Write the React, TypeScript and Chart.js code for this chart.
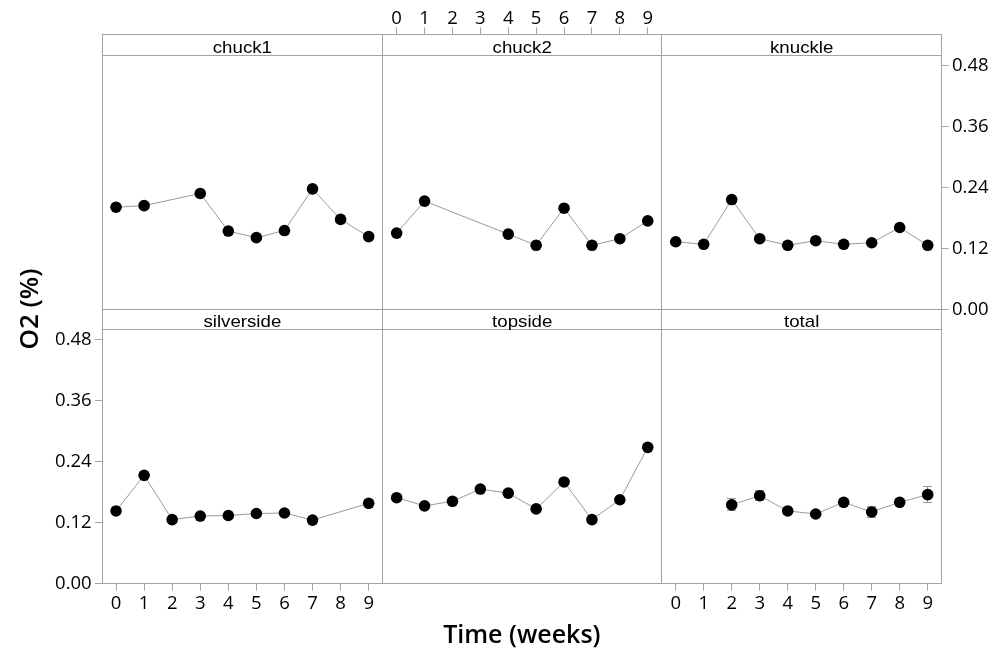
import React, { useEffect, useRef } from "react";
import { Chart, registerables } from "chart.js";

Chart.register(...registerables);

// ---------------- data ----------------
const weeks = [0, 1, 2, 3, 4, 5, 6, 7, 8, 9];
const xTickLabels = ["0", "1", "2", "3", "4", "5", "6", "7", "8", "9"];
const yTickValues = [0, 0.12, 0.24, 0.36, 0.48];
const yTickLabels = ["0.00", "0.12", "0.24", "0.36", "0.48"];
const panelNames = ["chuck1", "chuck2", "knuckle", "silverside", "topside", "total"];

const chuck1 = [0.201, 0.204, null, 0.228, 0.154, 0.141, 0.155, 0.237, 0.177, 0.143];
const chuck2 = [0.150, 0.213, null, null, 0.148, 0.126, 0.199, 0.126, 0.139, 0.174];
const knuckle = [0.133, 0.128, 0.216, 0.139, 0.126, 0.135, 0.128, 0.131, 0.161, 0.126];
const silverside = [0.143, 0.213, 0.126, 0.133, 0.134, 0.138, 0.139, 0.125, null, 0.158];
const topside = [0.169, 0.153, 0.162, 0.186, 0.178, 0.147, 0.200, 0.126, 0.165, 0.268];
const total = [null, null, 0.155, 0.173, 0.143, 0.137, 0.160, 0.141, 0.160, 0.175];
const totalErr = [null, null, 0.012, 0.0095, 0.004, 0.003, 0.004, 0.010, 0.004, 0.0155];

const xTitle = "Time (weeks)";
const yTitle = "O2 (%)";

// ---------------- layout / style ----------------
const W = 1007;
const H = 648;
const X_MIN = -0.5;
const X_MAX = 9.5;
const Y_MIN = 0;
const Y_MAX = 0.5;
const COLS = [102, 382.7, 661.7, 941.7];
const ROWS = [
  { stripTop: 34.3, top: 55.3, bottom: 309.3 },
  { stripTop: 309.3, top: 329.3, bottom: 583.7 },
];
const AX_L = 62;
const AX_R = 62;
const AX_T = 45;
const AX_B = 30;
const BORDER = "#a3a3a3";
const LINE = "#9a9a9a";
const TICK_FONT = { family: '"Open Sans", "Noto Sans", sans-serif', size: 18.5 };
const STRIP_FONT = '17px "Liberation Sans", Arial, sans-serif';
const X_TITLE_FONT = '600 25px "Open Sans", "Noto Sans", sans-serif';
const Y_TITLE_FONT = '600 26px "Open Sans", "Noto Sans", sans-serif';

type AxisPos = "none" | "top" | "bottom" | "left" | "right";
interface PanelDef {
  name: string;
  values: (number | null)[];
  err?: (number | null)[];
  row: number;
  col: number;
  xAxis: AxisPos;
  yAxis: AxisPos;
}

const PANELS: PanelDef[] = [
  { name: panelNames[0], values: chuck1, row: 0, col: 0, xAxis: "none", yAxis: "none" },
  { name: panelNames[1], values: chuck2, row: 0, col: 1, xAxis: "top", yAxis: "none" },
  { name: panelNames[2], values: knuckle, row: 0, col: 2, xAxis: "none", yAxis: "right" },
  { name: panelNames[3], values: silverside, row: 1, col: 0, xAxis: "bottom", yAxis: "left" },
  { name: panelNames[4], values: topside, row: 1, col: 1, xAxis: "none", yAxis: "none" },
  { name: panelNames[5], values: total, err: totalErr, row: 1, col: 2, xAxis: "bottom", yAxis: "none" },
];

const crisp = (v: number) => Math.floor(v) + 0.5;

function buildConfig(p: PanelDef, drawTitles: boolean): any {
  const row = ROWS[p.row];
  const left = COLS[p.col];
  const right = COLS[p.col + 1];
  const padding = {
    left: left - (p.yAxis === "left" ? AX_L : 0),
    right: W - right - (p.yAxis === "right" ? AX_R : 0),
    top: row.top - (p.xAxis === "top" ? AX_T : 0),
    bottom: H - row.bottom - (p.xAxis === "bottom" ? AX_B : 0),
  };
  const data = weeks
    .map((w, i) => ({ x: w, y: p.values[i] }))
    .filter((d) => d.y !== null && d.y !== undefined);

  const showX = p.xAxis !== "none";
  const showY = p.yAxis !== "none";

  const panelPlugin = {
    id: "panelDecor",
    beforeDatasetsDraw(chart: any) {
      if (!p.err) return;
      const ctx = chart.ctx;
      const xs = chart.scales.x;
      const ys = chart.scales.y;
      ctx.save();
      ctx.strokeStyle = LINE;
      ctx.lineWidth = 1;
      weeks.forEach((w, i) => {
        const v = p.values[i];
        const e = p.err ? p.err[i] : null;
        if (v === null || e === null || e === undefined) return;
        const cx = crisp(xs.getPixelForValue(w));
        const y1 = ys.getPixelForValue(v + e);
        const y2 = ys.getPixelForValue(v - e);
        ctx.beginPath();
        ctx.moveTo(cx, y1);
        ctx.lineTo(cx, y2);
        ctx.moveTo(cx - 4.5, crisp(y1));
        ctx.lineTo(cx + 4.5, crisp(y1));
        ctx.moveTo(cx - 4.5, crisp(y2));
        ctx.lineTo(cx + 4.5, crisp(y2));
        ctx.stroke();
      });
      ctx.restore();
    },
    afterDraw(chart: any) {
      const ctx = chart.ctx;
      ctx.save();
      // strip background
      ctx.fillStyle = "#ffffff";
      ctx.fillRect(left, row.stripTop, right - left, row.top - row.stripTop);
      // borders
      ctx.strokeStyle = BORDER;
      ctx.lineWidth = 1;
      const L = crisp(left);
      const R = crisp(right);
      const T = crisp(row.stripTop);
      const M = crisp(row.top);
      const B = crisp(row.bottom);
      ctx.strokeRect(L, T, R - L, B - T);
      ctx.beginPath();
      ctx.moveTo(L, M);
      ctx.lineTo(R, M);
      ctx.stroke();
      // strip label
      ctx.fillStyle = "#000";
      ctx.font = STRIP_FONT;
      ctx.textAlign = "center";
      ctx.textBaseline = "alphabetic";
      ctx.save();
      ctx.translate((left + right) / 2, row.top - 2.8);
      ctx.scale(1.1, 1);
      ctx.fillText(p.name, 0, 0);
      ctx.restore();

      if (drawTitles) {
        ctx.fillStyle = "#000";
        ctx.textAlign = "center";
        ctx.textBaseline = "alphabetic";
        ctx.font = X_TITLE_FONT;
        ctx.fillText(xTitle, (COLS[0] + COLS[3]) / 2, 643);
        ctx.save();
        ctx.font = Y_TITLE_FONT;
        ctx.translate(37.5, (ROWS[0].stripTop + ROWS[1].bottom) / 2);
        ctx.rotate(-Math.PI / 2);
        ctx.fillText(yTitle, 0, 0);
        ctx.restore();
      }
      ctx.restore();
    },
  };

  return {
    type: "line",
    data: {
      datasets: [
        {
          label: p.name,
          data,
          borderColor: LINE,
          borderWidth: 1,
          pointRadius: 5.8,
          pointHoverRadius: 5.8,
          pointBackgroundColor: "#000",
          pointBorderColor: "#000",
          pointBorderWidth: 0,
          tension: 0,
          spanGaps: true,
          clip: false,
        },
      ],
    },
    options: {
      responsive: false,
      maintainAspectRatio: false,
      animation: false,
      devicePixelRatio: 1,
      events: [],
      layout: { padding },
      plugins: {
        legend: { display: false },
        tooltip: { enabled: false },
        title: { display: false },
      },
      scales: {
        x: {
          type: "linear",
          min: X_MIN,
          max: X_MAX,
          display: showX,
          position: p.xAxis === "top" ? "top" : "bottom",
          afterBuildTicks: (s: any) => {
            s.ticks = weeks.map((v) => ({ value: v }));
          },
          afterFit: (s: any) => {
            if (showX) s.height = p.xAxis === "top" ? AX_T : AX_B;
          },
          grid: {
            display: true,
            drawOnChartArea: false,
            drawTicks: true,
            tickLength: p.xAxis === "top" ? 28 : 7,
            color: BORDER,
            lineWidth: 1,
          },
          border: { display: false },
          ticks: {
            autoSkip: false,
            maxRotation: 0,
            minRotation: 0,
            padding: p.xAxis === "top" ? -3 : 2,
            color: "#000",
            font: TICK_FONT,
            callback: (_v: any, i: number) => xTickLabels[i],
          },
        },
        y: {
          type: "linear",
          min: Y_MIN,
          max: Y_MAX,
          display: showY,
          position: p.yAxis === "right" ? "right" : "left",
          afterBuildTicks: (s: any) => {
            s.ticks = yTickValues.map((v) => ({ value: v }));
          },
          afterFit: (s: any) => {
            if (showY) s.width = p.yAxis === "right" ? AX_R : AX_L;
          },
          grid: {
            display: true,
            drawOnChartArea: false,
            drawTicks: true,
            tickLength: 7,
            color: BORDER,
            lineWidth: 1,
          },
          border: { display: false },
          ticks: {
            autoSkip: false,
            padding: 3.3,
            color: "#000",
            font: TICK_FONT,
            callback: (_v: any, i: number) => yTickLabels[i],
          },
        },
      },
    },
    plugins: [panelPlugin],
  };
}

export default function App() {
  const refs = useRef<(HTMLCanvasElement | null)[]>([]);

  useEffect(() => {
    const charts = PANELS.map((p, i) => new Chart(refs.current[i] as HTMLCanvasElement, buildConfig(p, i === 0)));
    return () => {
      charts.forEach((c) => c.destroy());
    };
  }, []);

  return (
    <div style={{ position: "fixed", left: 0, top: 0, width: W, height: H, background: "#fff" }}>
      {PANELS.map((p, i) => (
        <canvas
          key={p.name}
          ref={(el) => {
            refs.current[i] = el;
          }}
          width={W}
          height={H}
          style={{ position: "absolute", left: 0, top: 0, width: W, height: H }}
        />
      ))}
    </div>
  );
}
